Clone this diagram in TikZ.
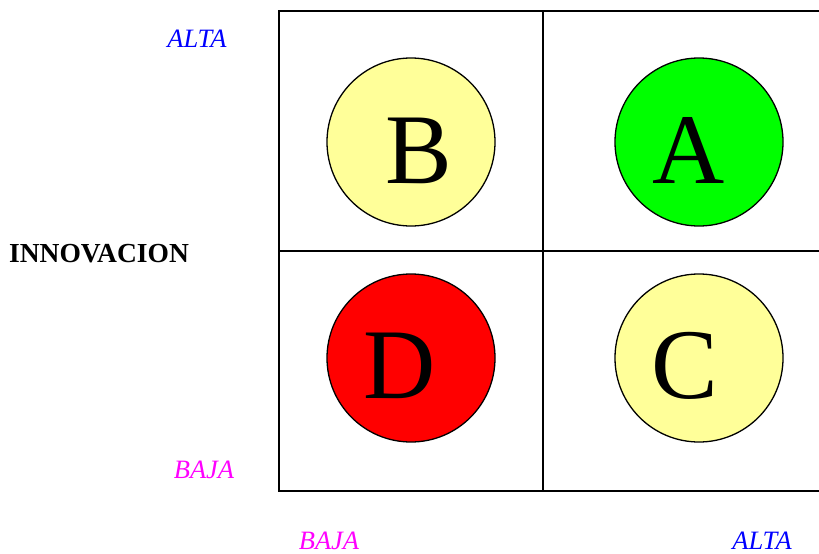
\documentclass[tikz,border=0pt]{standalone}
\usepackage{fontspec}
\setmainfont{Liberation Serif}
\definecolor{paleyellow}{HTML}{FFFF99}
\definecolor{brightgreen}{HTML}{00FF00}
\definecolor{brightred}{HTML}{FF0000}
\definecolor{axisblue}{HTML}{0000FF}
\definecolor{axismagenta}{HTML}{FF00FF}
\begin{document}
\begin{tikzpicture}[x=1pt,y=-1pt,
  gridline/.style={line width=2pt,black},
  quad/.style={circle,draw=black,line width=1.3pt,minimum size=168pt,inner sep=0pt},
  bigletter/.style={font=\fontsize{100}{100}\selectfont,anchor=base,inner sep=0pt},
  high/.style={font=\fontsize{26.5}{26.5}\selectfont\itshape,text=axisblue,inner sep=0pt},
  low/.style={font=\fontsize{26.5}{26.5}\selectfont\itshape,text=axismagenta,inner sep=0pt},
  axisname/.style={font=\fontsize{27.5}{27.5}\selectfont\bfseries,inner sep=0pt}]
\useasboundingbox (0,0) rectangle (819,554);
\begin{scope}
\clip (0,0) rectangle (819,554);
% quadrant grid
\coordinate (tl) at (279,11);
\coordinate (bl) at (279,491);
\draw[gridline] (830,11) -- (tl) -- (bl) -- (830,491);
\draw[gridline] (543,11) -- (543,491);
\draw[gridline] (279,251) -- (830,251);
% quadrants
\node[quad,fill=paleyellow] (qb) at (411,142) {};
\node[quad,fill=brightgreen] (qa) at (699,142) {};
\node[quad,fill=brightred] (qd) at (411,358) {};
\node[quad,fill=paleyellow] (qc) at (699,358) {};
\node[bigletter] (lb) at (419,183) {B};
\node[bigletter] (la) at (689,183) {A};
\node[bigletter] (ld) at (400,398) {D};
\node[bigletter] (lc) at (685,398) {C};
\end{scope}
% axis labels
\node[high] (yhigh) at (197,39) {ALTA};
\node[low] (ylow) at (204,470) {BAJA};
\node[axisname] (yname) at (99,254) {INNOVACION};
\node[low] (xlow) at (329,541) {BAJA};
\node[high] (xhigh) at (762,541) {ALTA};
\end{tikzpicture}
\end{document}
